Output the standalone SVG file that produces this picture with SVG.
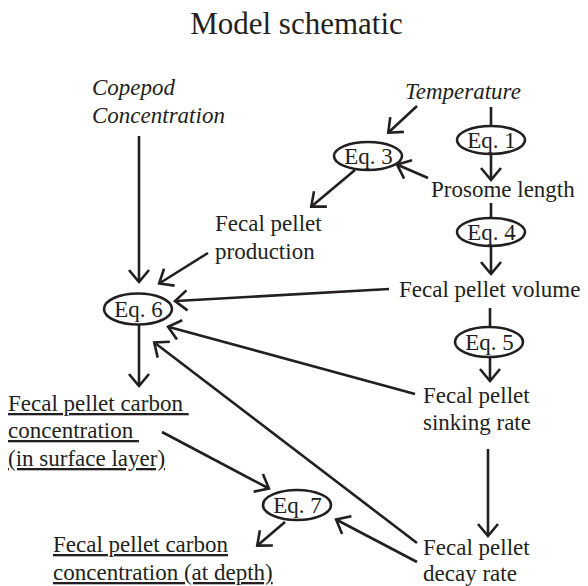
<svg xmlns="http://www.w3.org/2000/svg" width="588" height="586" viewBox="0 0 588 586">
<style>
text{font-family:"Liberation Serif","Times New Roman",serif;font-size:23px;fill:#231f20}
.title{font-size:31px}
.it{font-style:italic}
.u{text-decoration:underline;white-space:pre}
.eq{text-anchor:middle}
ellipse{fill:none;stroke:#231f20;stroke-width:2.6}
#connectors line{stroke:#231f20;stroke-width:2.6;fill:none}
.a{marker-end:url(#ah)}
</style>
<defs>
<marker id="ah" markerUnits="userSpaceOnUse" viewBox="-2 -2 16 24" markerWidth="16" markerHeight="24" refX="11" refY="10" orient="auto">
<path d="M0,0 L12,10 L0,20" fill="none" stroke="#231f20" stroke-width="2.6" stroke-linejoin="miter"/>
</marker>
</defs>
<rect width="588" height="586" fill="#ffffff"/>
<text class="title" x="296.5" y="34" text-anchor="middle">Model schematic</text>

<g id="connectors">
<line class="a" x1="139" y1="136" x2="139" y2="281"/>
<line class="a" x1="417" y1="106" x2="389" y2="132"/>
<line x1="491" y1="107" x2="491" y2="126"/>
<line class="a" x1="491" y1="154" x2="491" y2="179"/>
<line class="a" x1="428" y1="178" x2="398" y2="165"/>
<line class="a" x1="355" y1="170" x2="312" y2="206"/>
<line x1="491" y1="203" x2="491" y2="218"/>
<line class="a" x1="491" y1="246" x2="491" y2="273"/>
<line class="a" x1="208" y1="253" x2="160" y2="283"/>
<line class="a" x1="389" y1="289" x2="176" y2="301"/>
<line x1="490" y1="308" x2="490" y2="327"/>
<line class="a" x1="490" y1="357" x2="490" y2="380"/>
<line class="a" x1="415" y1="394" x2="169" y2="327"/>
<line class="a" x1="417" y1="543" x2="155" y2="343"/>
<line class="a" x1="139" y1="325" x2="139" y2="385"/>
<line class="a" x1="162" y1="432" x2="268" y2="488"/>
<line class="a" x1="488" y1="449" x2="488" y2="535"/>
<line class="a" x1="417" y1="562" x2="337" y2="520"/>
<line class="a" x1="285" y1="522" x2="258" y2="545"/>
</g>

<g id="copepod"><text class="it" x="92" y="95">Copepod</text><text class="it" x="92" y="123">Concentration</text></g>
<g id="temperature"><text class="it" x="405" y="99">Temperature</text></g>
<g id="eq1"><ellipse cx="491" cy="140" rx="34" ry="14"/><text class="eq" x="491.5" y="148">Eq. 1</text></g>
<g id="eq3"><ellipse cx="368" cy="156" rx="34" ry="14"/><text class="eq" x="368.5" y="164">Eq. 3</text></g>
<g id="prosome"><text x="431" y="197">Prosome length</text></g>
<g id="production"><text x="215" y="231">Fecal pellet</text><text x="215" y="259">production</text></g>
<g id="eq4"><ellipse cx="491" cy="232" rx="34" ry="14"/><text class="eq" x="491.5" y="240">Eq. 4</text></g>
<g id="volume"><text x="399" y="297">Fecal pellet volume</text></g>
<g id="eq5"><ellipse cx="489" cy="342" rx="34" ry="15"/><text class="eq" x="489.5" y="350">Eq. 5</text></g>
<g id="sinking"><text x="423" y="403">Fecal pellet</text><text x="423" y="430">sinking rate</text></g>
<g id="eq6"><ellipse cx="138" cy="309" rx="34" ry="15.5"/><text class="eq" x="138.5" y="317">Eq. 6</text></g>
<g id="surface"><text class="u" x="8" y="411">Fecal pellet carbon </text><text class="u" x="8" y="438">concentration </text><text class="u" x="8" y="466">(in surface layer)</text></g>
<g id="eq7"><ellipse cx="297" cy="505" rx="34" ry="15"/><text class="eq" x="297.5" y="513">Eq. 7</text></g>
<g id="depth"><text class="u" x="53" y="552">Fecal pellet carbon</text><text class="u" x="53" y="580">concentration (at depth)</text></g>
<g id="decay"><text x="423" y="555">Fecal pellet</text><text x="423" y="581">decay rate</text></g>
</svg>
